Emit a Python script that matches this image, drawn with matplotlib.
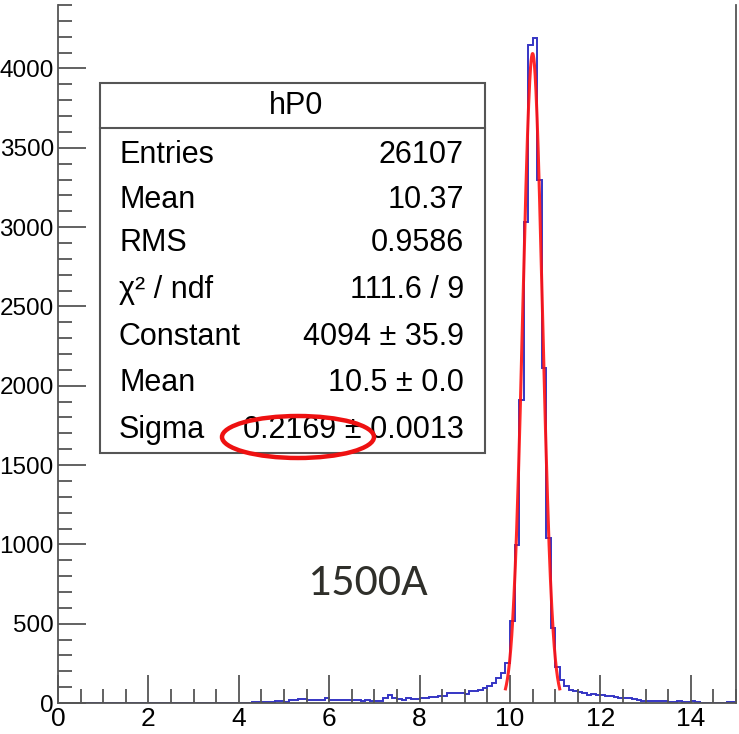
import numpy as np
import matplotlib
matplotlib.use("Agg")
import matplotlib.pyplot as plt
from matplotlib.patches import Ellipse, Rectangle
from matplotlib.ticker import MultipleLocator

# ---------------- data ----------------
x_min, x_max, n_bins = 0.0, 15.0, 150
counts_0_to_3p5 = [0] * 35
counts_3p5_to_7 = [0, 1, 1, 3, 3, 0, 0, 1, 5, 5,
                   5, 6, 6, 14, 14, 6, 17, 17, 23, 23,
                   17, 17, 17, 17, 29, 21, 17, 18, 18, 18,
                   19, 19, 13, 22, 13]
counts_7_to_10 = [13, 13, 31, 48, 31, 25, 19, 31, 25, 25,
                  31, 31, 36, 36, 46, 42, 61, 65, 65, 65,
                  56, 75, 75, 84, 96, 110, 128, 160, 188, 254]
counts_10_to_11 = [516, 994, 1912, 3030, 4145, 4190, 3296, 2113, 1038, 472]
counts_11_to_15 = [226, 145, 105, 84, 73, 69, 60, 52, 55, 48,
                   48, 42, 42, 36, 31, 31, 31, 25, 21, 15,
                   15, 10, 10, 13, 10, 8, 6, 10, 6, 6,
                   10, 6, 3, 0, 0, 0, 0, 0, 6, 6]
counts = np.array(counts_0_to_3p5 + counts_3p5_to_7 + counts_7_to_10
                  + counts_10_to_11 + counts_11_to_15, dtype=float)

fit_constant = 4094.0
fit_mean = 10.5
fit_sigma = 0.2169
fit_range = (9.9, 11.1)

hist_name = "hP0"
stat_labels = ["Entries", "Mean", "RMS", "\u03c7\u00b2 / ndf", "Constant", "Mean", "Sigma"]
stat_values = ["26107", "10.37", "0.9586", "111.6 / 9", "4094 \u00b1 35.9",
               "10.5 \u00b1 0.0", "0.2169 \u00b1 0.0013"]
annotation = "1500A"

# ---------------- figure ----------------
W, H = 739, 734
fig = plt.figure(figsize=(W / 100, H / 100), dpi=100)

def fx(px):
    return px / W

def fy(py):
    return 1 - py / H

ax_left, ax_right, ax_top, ax_bottom = 58, 736, 5, 703
ax = fig.add_axes([fx(ax_left), fy(ax_bottom), fx(ax_right - ax_left), (ax_bottom - ax_top) / H])

edges = np.linspace(x_min, x_max, n_bins + 1)
ax.stairs(counts, edges, color="#3535c4", linewidth=1.4)

xf = np.linspace(fit_range[0], fit_range[1], 200)
yf = fit_constant * np.exp(-0.5 * ((xf - fit_mean) / fit_sigma) ** 2)
ax.plot(xf, yf, color="#ff1010", linewidth=2.2, alpha=0.9)

ax.set_xlim(x_min, x_max)
ax.set_ylim(0, 4400)

tick_font = ["Liberation Sans", "DejaVu Sans"]
ax.xaxis.set_major_locator(MultipleLocator(2))
ax.xaxis.set_minor_locator(MultipleLocator(0.5))
ax.yaxis.set_major_locator(MultipleLocator(500))
ax.yaxis.set_minor_locator(MultipleLocator(100))
ax.tick_params(axis="both", which="major", direction="in", length=20, width=1.3,
               color="#555555", pad=3)
ax.tick_params(axis="y", which="major", labelsize=17.5)
ax.tick_params(axis="x", which="major", labelsize=19)
ax.tick_params(axis="both", which="minor", direction="in", length=10, width=1.3,
               color="#555555")
ax.tick_params(axis="y", which="both", right=False)
ax.tick_params(axis="x", which="both", top=False)
for lab in ax.get_xticklabels() + ax.get_yticklabels():
    lab.set_family(tick_font)
ax.spines["top"].set_visible(False)
for s in ["left", "bottom", "right"]:
    ax.spines[s].set_color("#555555")
    ax.spines[s].set_linewidth(1.3)

# ---------------- stats box ----------------
bx0, bx1, by0, by1, bsep = 100, 485, 83, 453, 128
fig.patches.append(Rectangle((fx(bx0), fy(by1)), fx(bx1 - bx0), (by1 - by0) / H,
                             transform=fig.transFigure, facecolor="white",
                             edgecolor="#555555", linewidth=1.5, zorder=5))
fig.lines.append(plt.Line2D([fx(bx0), fx(bx1)], [fy(bsep), fy(bsep)],
                            transform=fig.transFigure, color="#555555", linewidth=1.5, zorder=6))
box_font = ["Liberation Sans", "DejaVu Sans"]
fig.text(fx(296), fy(106), hist_name, ha="center", va="center",
         fontsize=22, family=box_font, zorder=7)
row_y = [155, 200, 243, 290, 337, 383, 430]
for lab, val, ry in zip(stat_labels, stat_values, row_y):
    fig.text(fx(119), fy(ry), lab, ha="left", va="center", fontsize=22,
             family=box_font, zorder=7)
    fig.text(fx(464), fy(ry), val, ha="right", va="center", fontsize=22,
             family=box_font, zorder=7)

# ---------------- annotations ----------------
fig.patches.append(Ellipse((fx(298), fy(437)), fx(152), 42 / H, transform=fig.transFigure,
                           facecolor="none", edgecolor="#ee1111", linewidth=3.2, zorder=8))
fig.text(fx(368), fy(583), annotation, ha="center", va="center", fontsize=33,
         family=["Carlito", "Open Sans", "Lato", "DejaVu Sans"], color="#2f2f2a", zorder=7)

fig.savefig("out.png", dpi=100)
